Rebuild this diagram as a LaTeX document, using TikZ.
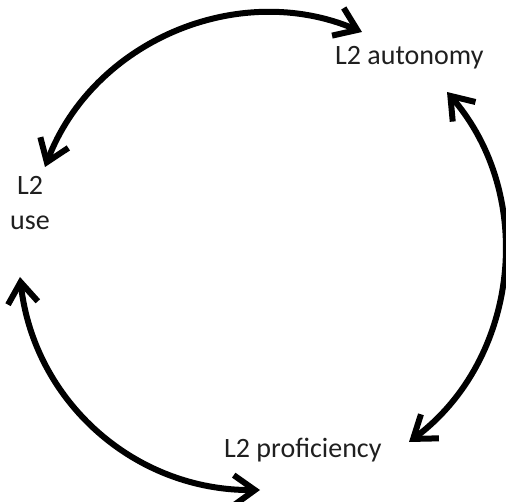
\documentclass[tikz,border=0pt]{standalone}
\usepackage{fontspec}
\setmainfont{Carlito}
\usetikzlibrary{arrows.meta}
\begin{document}
\begin{tikzpicture}[x=1pt,y=1pt,
  lbl/.style={font=\fontsize{28}{35}\selectfont, text=black!88, inner sep=0pt},
  barbtip/.tip={Straight Barb[length=21pt,width=30pt]},
  cyclearrow/.style={line width=6pt, {barbtip}-{barbtip}}]
\useasboundingbox (0,0) rectangle (506,501);

% labels
\node[lbl, anchor=base west] (aut) at (335,436) {L2 autonomy};
\node[lbl, align=center] (use) at (30,298) {L2\\use};
\node[lbl, anchor=base west] (prof) at (224,44) {L2 proficiency};

% arrow end points around the cycle
\coordinate (useTop) at (45,334);
\coordinate (autLeft) at (362,469);
\coordinate (autBelow) at (447,409);
\coordinate (profRight) at (409,59);
\coordinate (profLeft) at (260,11);
\coordinate (useBelow) at (20,224);

% two-way arrows
\draw[cyclearrow] (useTop) to[bend left=46] (autLeft);
\draw[cyclearrow] (autBelow) to[bend left=47] (profRight);
\draw[cyclearrow] (profLeft) to[bend left=42] (useBelow);
\end{tikzpicture}
\end{document}
